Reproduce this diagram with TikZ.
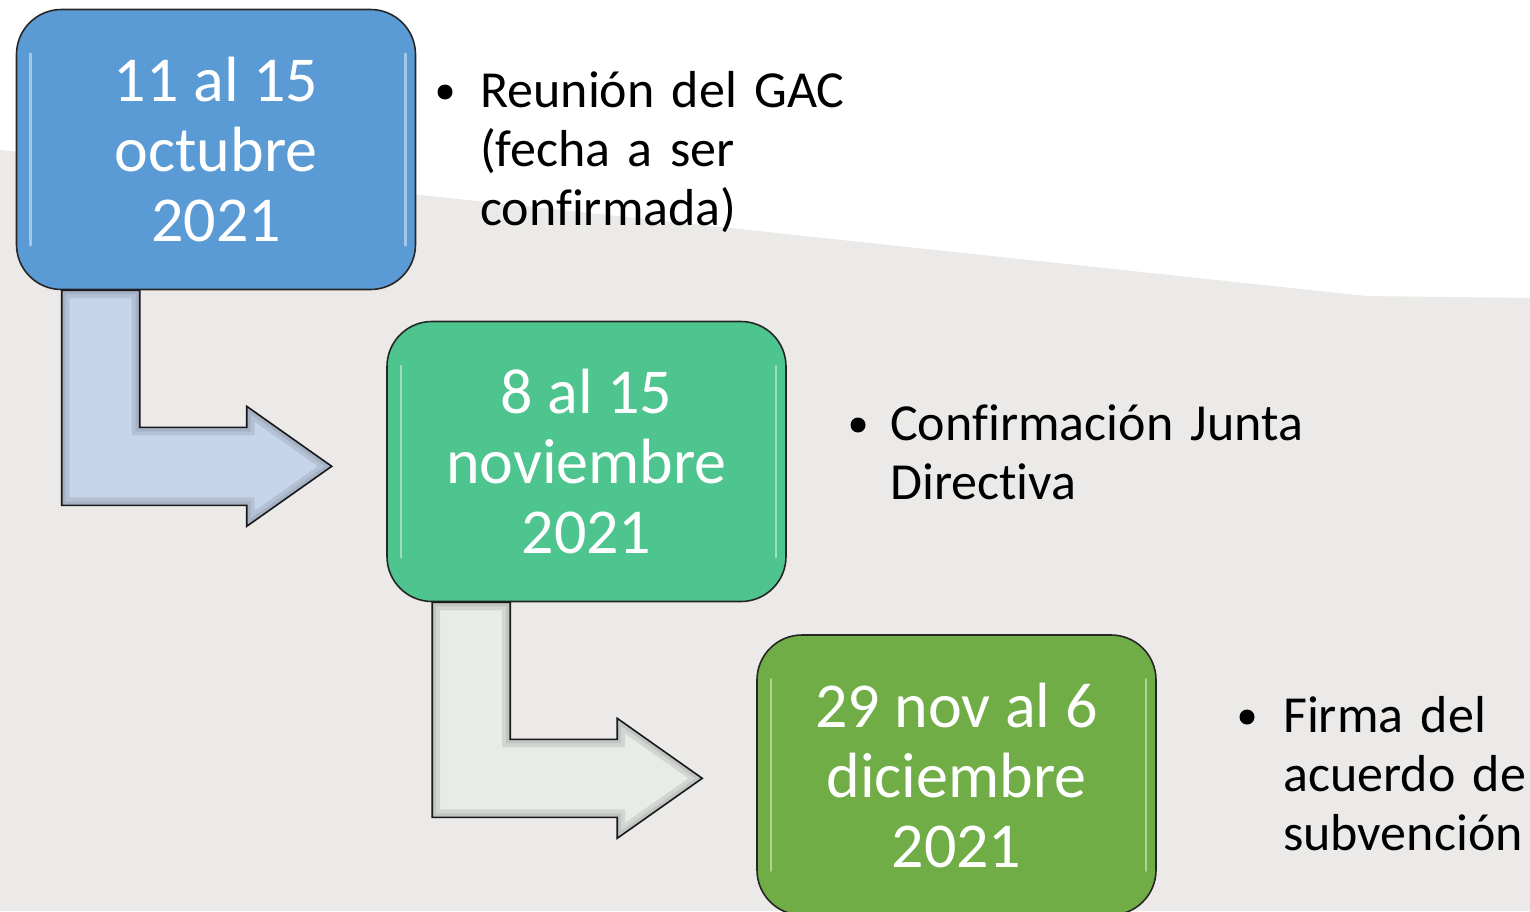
\documentclass[tikz,border=0pt]{standalone}
\usepackage{fontspec}
\setmainfont{Carlito}[RawFeature={-liga;-clig;-calt;-dlig}]
\usetikzlibrary{positioning}

\definecolor{bggray}{HTML}{EBEAE8}
\definecolor{boxblue}{HTML}{5B9BD5}
\definecolor{boxteal}{HTML}{4EC48F}
\definecolor{boxgreen}{HTML}{70AD47}
\definecolor{arrowblue}{HTML}{C6D5EA}
\definecolor{arrowgray}{HTML}{E7ECE7}

% bent arrow leaving the bottom of a date box
\newcommand\bentpath[1]{([xshift=46pt]#1.south west) -- ++(0,215) -- ++(185,0)
  -- ++(0,21) -- ++(85,-60) -- ++(-85,-60) -- ++(0,21) -- ++(-107,0) -- ++(0,-137) -- cycle}

\begin{document}
\begin{tikzpicture}[x=1pt,y=-1pt,
    datebox/.style={draw=black!85, line width=1.6pt, rounded corners=45pt,
      minimum width=399pt, minimum height=280pt, text=white, align=center,
      font=\fontsize{64}{70}\selectfont},
    bentarrow/.style={draw=black!90, line width=1.6pt},
    bevel/.style={line width=#1, opacity=.2},
    gloss/.style={white, opacity=.45, line width=2.5pt, line cap=round},
    bul/.style={circle, fill=black, minimum size=15pt, inner sep=0pt},
    itemtext/.style={anchor=base west, text width=440pt, align=left,
      inner sep=0pt, font=\fontsize{52}{59}\selectfont}]
  \useasboundingbox (0,0) rectangle (1530,911);
  \clip (0,0) rectangle (1530,911);
  % background
  \fill[white] (0,0) rectangle (1530,911);
  \fill[bggray] (0,150) -- (1366,296) -- (1530,298) -- (1530,911) -- (0,911) -- cycle;

  % date boxes
  \node[datebox, fill=boxblue] (oct) at (216,149.5) {11 al 15\\octubre\\2021};
  \node[datebox, fill=boxteal] (nov) at (586.5,461.5) {8 al 15\\noviembre\\2021};
  \node[datebox, fill=boxgreen] (dic) at (956.5,775) {29 nov al 6\\diciembre\\2021};
  \foreach \n in {oct,nov,dic} {
    \draw[gloss] ([xshift=15pt,yshift=-45pt]\n.north west) -- ([xshift=15pt,yshift=45pt]\n.south west);
    \draw[gloss] ([xshift=-11pt,yshift=-45pt]\n.north east) -- ([xshift=-11pt,yshift=45pt]\n.south east);
  }

  % bent arrows
  \foreach \n/\col in {oct/arrowblue, nov/arrowgray} {
    \begin{scope}
      \clip \bentpath{\n};
      \fill[\col] \bentpath{\n};
      \draw[bevel=16pt, \col!55!black] \bentpath{\n};
      \draw[bevel=8pt, \col!55!black] \bentpath{\n};
    \end{scope}
    \draw[bentarrow] \bentpath{\n};
  }

  % bullet items
  \node[bul] (b1) at (445,92) {};
  \node[itemtext] (t1) at (480,107) {Reunión del GAC\\(fecha a ser\\confirmada)};
  \node[bul] (b2) at (858,425) {};
  \node[itemtext] (t2) at (890,440) {Confirmación Junta\\Directiva};
  \node[bul] (b3) at (1247,717) {};
  \node[itemtext] (t3) at (1283,732) {Firma del\\acuerdo de\\subvención};
\end{tikzpicture}
\end{document}
